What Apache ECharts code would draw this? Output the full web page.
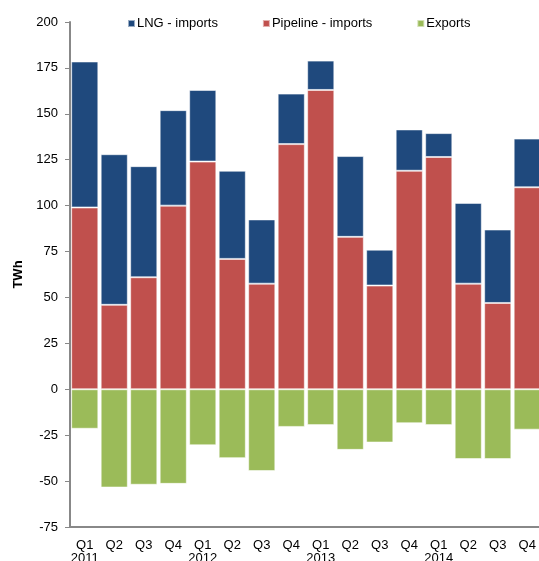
<!DOCTYPE html>
<html>
<head>
<meta charset="utf-8">
<script src="https://cdn.jsdelivr.net/npm/echarts@6/dist/echarts.min.js"></script>
<style>
  html, body { margin: 0; padding: 0; background: #fff; }
  #chart { width: 539px; height: 561px; }
</style>
</head>
<body>
<div id="chart"></div>
<script>
var quarters = ['Q1','Q2','Q3','Q4','Q1','Q2','Q3','Q4','Q1','Q2','Q3','Q4','Q1','Q2','Q3','Q4'];
var years = ['2011','','','','2012','','','','2013','','','','2014','','',''];
var pipelineImports = [99, 46, 61, 100, 124, 71, 57.5, 133.5, 163, 83, 56.5, 119, 126.5, 57.5, 47, 110];
var lngImports = [79.5, 82, 60.5, 52, 39, 48, 35, 27.5, 16, 44, 19.5, 22.5, 13, 44, 40, 26.5];
var exports = [-21.5, -53.5, -52, -51.5, -30.5, -37.5, -44.5, -20.5, -19.5, -33, -29, -18.5, -19.5, -38, -38, -22];

var categories = quarters.map(function (q, i) {
    return years[i] ? q + '\n' + years[i] : q;
});

var chart = echarts.init(document.getElementById('chart'));
var barBorder = { borderColor: 'rgba(255,255,255,0.55)', borderWidth: 1 };

var option = {
    animation: false,
    textStyle: { fontFamily: 'Liberation Sans, Arial, sans-serif' },
    legend: {
        data: ['LNG - imports', 'Pipeline - imports', 'Exports'],
        top: 17,
        left: 127,
        padding: 0,
        itemWidth: 7,
        itemHeight: 7,
        itemGap: 44,
        icon: 'rect',
        textStyle: { fontSize: 13, color: '#000', padding: [0, 0, 0, -3] }
    },
    grid: {
        left: 70,
        top: 22,
        height: 505,
        width: 472,
        outerBoundsMode: 'none',
        containLabel: false
    },
    xAxis: {
        type: 'category',
        data: categories,
        axisLine: { onZero: false, lineStyle: { color: '#888', width: 2 } },
        axisTick: { interval: 0, length: 4, lineStyle: { color: '#888' } },
        axisLabel: { interval: 0, color: '#000', fontSize: 13, lineHeight: 13, margin: 12 }
    },
    yAxis: {
        type: 'value',
        min: -75,
        max: 200,
        interval: 25,
        name: 'TWh',
        nameLocation: 'middle',
        nameGap: 45,
        nameTextStyle: { fontWeight: 'bold', fontSize: 13, color: '#000' },
        axisLine: { show: true, lineStyle: { color: '#888', width: 2 } },
        axisTick: { show: true, length: 5, lineStyle: { color: '#888' } },
        axisLabel: { color: '#000', fontSize: 13, margin: 12 },
        splitLine: { show: false }
    },
    series: [
        {
            name: 'Pipeline - imports',
            type: 'bar',
            stack: 'gas',
            barCategoryGap: '8%',
            itemStyle: Object.assign({ color: '#C0504D' }, barBorder),
            data: pipelineImports
        },
        {
            name: 'LNG - imports',
            type: 'bar',
            stack: 'gas',
            barCategoryGap: '8%',
            itemStyle: Object.assign({ color: '#1F497D' }, barBorder),
            data: lngImports
        },
        {
            name: 'Exports',
            type: 'bar',
            stack: 'gas',
            barCategoryGap: '8%',
            itemStyle: Object.assign({ color: '#9BBB59' }, barBorder),
            data: exports
        }
    ]
};

chart.setOption(option);
</script>
</body>
</html>
